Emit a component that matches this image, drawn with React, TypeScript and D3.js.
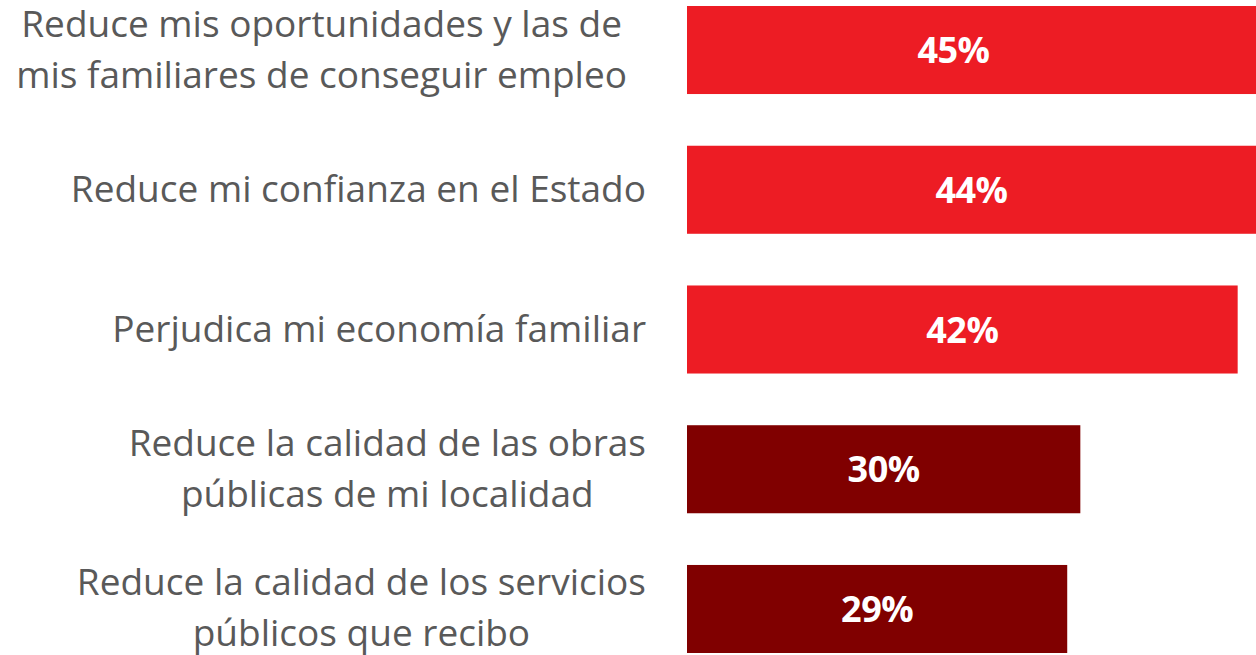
import React, { useEffect, useRef } from "react";
import * as d3 from "d3";

const categories: string[][] = [
  ["Reduce mis oportunidades y las de", "mis familiares de conseguir empleo"],
  ["Reduce mi confianza en el Estado"],
  ["Perjudica mi economía familiar"],
  ["Reduce la calidad de las obras", "públicas de mi localidad"],
  ["Reduce la calidad de los servicios", "públicos que recibo"],
];
const values: number[] = [45, 44, 42, 30, 29];
const valueLabels: string[] = ["45%", "44%", "42%", "30%", "29%"];
const groups: string[] = ["high", "high", "high", "low", "low"];

const W = 1256;
const H = 655;
// layout: right edge of each label text box
const labelRightEdges = [627, 646, 646, 646, 646];

export default function App() {
  const ref = useRef<SVGSVGElement | null>(null);

  useEffect(() => {
    const svg = d3.select(ref.current);
    svg.selectAll("*").remove();

    const x0 = 687;
    const x = d3.scaleLinear().domain([0, 45]).range([x0, x0 + 590]);
    const ids = categories.map((_, i) => String(i));
    const y = d3
      .scaleBand<string>()
      .domain(ids)
      .range([6, 653])
      .paddingInner(0.37)
      .paddingOuter(0);
    const color = d3
      .scaleOrdinal<string, string>()
      .domain(["high", "low"])
      .range(["#ED1C24", "#800000"]);

    const lineGap = 51;

    const rows = svg
      .selectAll("g.row")
      .data(values.map((v, i) => ({ v, i })))
      .join("g")
      .attr("class", "row");

    rows
      .append("rect")
      .attr("x", x(0))
      .attr("y", (d) => y(ids[d.i])!)
      .attr("width", (d) => x(d.v) - x(0))
      .attr("height", y.bandwidth())
      .attr("fill", (d) => color(groups[d.i]));

    rows
      .append("text")
      .attr("x", (d) => (x(0) + Math.min(x(d.v), W)) / 2 - (d.i === 0 ? 18 : 0))
      .attr("y", (d) => y(ids[d.i])! + y.bandwidth() / 2 + 13)
      .attr("text-anchor", "middle")
      .attr("fill", "#ffffff")
      .attr("font-family", "'Open Sans', sans-serif")
      .attr("font-weight", 700)
      .attr("font-size", 36)
      .attr("letter-spacing", -0.5)
      .text((d) => valueLabels[d.i]);

    rows.each(function (d) {
      const g = d3.select(this);
      const lines = categories[d.i];
      const cy = y(ids[d.i])! + y.bandwidth() / 2;
      const right = labelRightEdges[d.i];
      const t = g
        .append("text")
        .attr("fill", "#595959")
        .attr("font-family", "'Open Sans', sans-serif")
        .attr("font-size", 37);
      const spans = t
        .selectAll("tspan")
        .data(lines)
        .join("tspan")
        .attr("y", (_, k) => cy + 12 + (k - (lines.length - 1) / 2) * lineGap)
        .text((s) => s);
      if (lines.length === 1) {
        t.attr("text-anchor", "end");
        spans.attr("x", right);
      } else {
        let maxW = 0;
        spans.each(function () {
          maxW = Math.max(maxW, (this as SVGTSpanElement).getComputedTextLength());
        });
        t.attr("text-anchor", "middle");
        spans.attr("x", right - maxW / 2);
      }
    });
  }, []);

  return (
    <svg
      ref={ref}
      width={W}
      height={H}
      style={{ position: "absolute", left: 0, top: 0, background: "#ffffff" }}
    />
  );
}
